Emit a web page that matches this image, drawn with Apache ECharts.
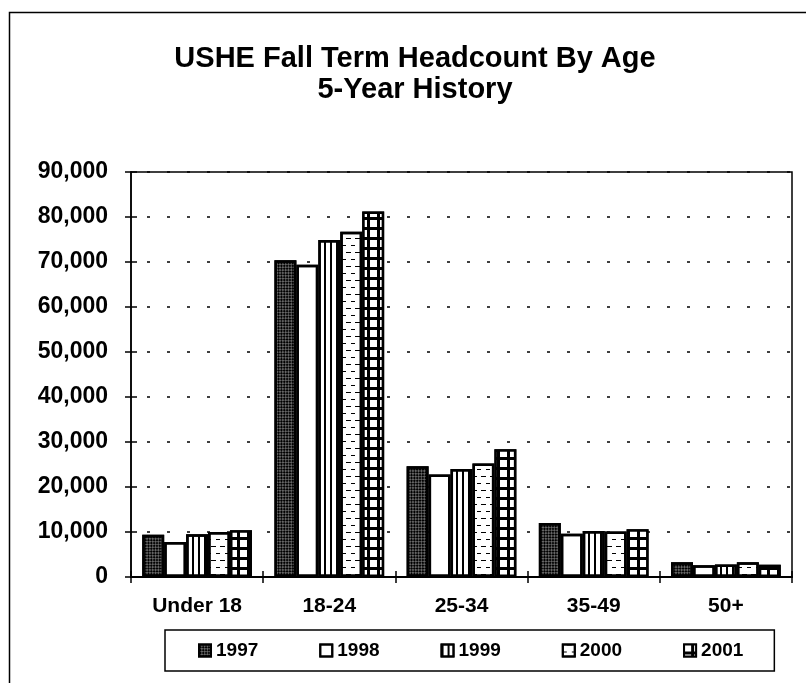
<!DOCTYPE html>
<html>
<head>
<meta charset="utf-8">
<title>USHE Fall Term Headcount By Age</title>
<script src="https://cdn.jsdelivr.net/npm/echarts@6/dist/echarts.min.js"></script>
<style>
    html, body { margin: 0; padding: 0; background: #fff; }
    #chart { width: 806px; height: 683px; }
</style>
</head>
<body>
<div id="chart"></div>
<script>
// 数据
var categories = ['Under 18', '18-24', '25-34', '35-49', '50+'];
var years = ['1997', '1998', '1999', '2000', '2001'];
var v1997 = [9400, 70400, 24600, 12000, 3300];
var v1998 = [7800, 69400, 22800, 9600, 2600];
var v1999 = [9500, 74900, 24000, 10200, 2800];
var v2000 = [10000, 76700, 25200, 10100, 3300];
var v2001 = [10400, 81200, 28400, 10600, 2700];
var yTickLabels = ['0', '10,000', '20,000', '30,000', '40,000', '50,000', '60,000', '70,000', '80,000', '90,000'];

(function () {
    var font = "'Liberation Sans', Arial, sans-serif";
    var myChart = echarts.init(document.getElementById('chart'));

    // 各年份的填充图案 (rotation 要写明, 否则会用默认值)
    var decals = [
        { symbol: 'rect', symbolSize: 1, color: '#000', dashArrayX: [[2, 2], [0, 2, 2, 0]], dashArrayY: [2, 0], rotation: Math.PI / 4 },
        { symbol: 'rect', symbolSize: 1, color: 'rgba(0,0,0,0)', dashArrayX: [5, 0], dashArrayY: [5, 0], rotation: 0 },
        { symbol: 'rect', symbolSize: 1, color: '#000', dashArrayX: [1.5, 3.5], dashArrayY: [10, 0], rotation: 0 },
        { symbol: 'rect', symbolSize: 1, color: '#000', dashArrayX: [[4, 5], [0, 4, 5, 0]], dashArrayY: [1, 6], rotation: 0 },
        { symbol: 'rect', symbolSize: 1, color: '#fff', dashArrayX: [7, 3], dashArrayY: [7, 3], rotation: 0 }
    ];
    var fills = ['#666', '#fff', '#fff', '#fff', '#000'];
    var values = [v1997, v1998, v1999, v2000, v2001];

    var series = years.map(function (y, i) {
        return {
            name: y,
            type: 'bar',
            barGap: '0%',
            barCategoryGap: '17%',
            data: values[i],
            itemStyle: {
                color: fills[i],
                borderColor: '#000',
                borderWidth: 2.5,
                decal: decals[i]
            },
            emphasis: { disabled: true }
        };
    });

    var option = {
        animation: false,
        aria: { enabled: true, decal: { show: true } },
        title: {
            text: 'USHE Fall Term Headcount By Age\n5-Year History',
            left: 410,
            top: 38,
            textAlign: 'center',
            textStyle: {
                fontFamily: font,
                fontWeight: 'bold',
                fontSize: 29,
                lineHeight: 31,
                color: '#000'
            }
        },
        legend: {
            data: years,
            icon: 'rect',
            left: 165,
            top: 630,
            padding: [11, 31, 11, 33],
            itemWidth: 12,
            itemHeight: 12,
            itemGap: 61,
            borderColor: '#000',
            borderWidth: 1.5,
            textStyle: {
                fontFamily: font,
                fontWeight: 'bold',
                fontSize: 19,
                color: '#000'
            }
        },
        // 图表区域
        grid: {
            left: 131,
            right: 14,
            top: 172,
            bottom: 106,
            show: true,
            borderColor: '#000',
            borderWidth: 1.5
        },
        xAxis: [
            {
                type: 'category',
                data: categories,
                position: 'bottom',
                axisLine: { lineStyle: { color: '#000', width: 2 } },
                axisTick: { show: true, length: 6, lineStyle: { color: '#000', width: 1.5 } },
                axisLabel: {
                    margin: 19,
                    fontFamily: font,
                    fontWeight: 'bold',
                    fontSize: 21,
                    color: '#000'
                }
            },
            {
                type: 'category',
                data: categories,
                position: 'bottom',
                axisLine: { show: false },
                axisTick: { show: true, inside: true, length: 6, lineStyle: { color: '#000', width: 1.5 } },
                axisLabel: { show: false }
            }
        ],
        yAxis: [
            {
                type: 'value',
                min: 0,
                max: 90000,
                interval: 10000,
                axisLine: { show: true, lineStyle: { color: '#000', width: 1.5 } },
                axisTick: { show: true, length: 6, lineStyle: { color: '#000', width: 1.5 } },
                axisLabel: {
                    margin: 23,
                    fontFamily: font,
                    fontWeight: 'bold',
                    fontSize: 23,
                    color: '#000',
                    formatter: function (v) {
                        return yTickLabels[Math.round(v / 10000)];
                    }
                },
                // 虚线网格
                splitLine: {
                    show: true,
                    lineStyle: { color: '#000', width: 1.5, type: [3, 17], dashOffset: -16 }
                }
            },
            {
                type: 'value',
                min: 0,
                max: 90000,
                interval: 10000,
                position: 'left',
                axisLine: { show: false },
                axisTick: { show: true, inside: true, length: 6, lineStyle: { color: '#000', width: 1.5 } },
                axisLabel: { show: false },
                splitLine: { show: false }
            }
        ],
        // 外边框
        graphic: [
            {
                type: 'rect',
                left: 7,
                top: 10,
                shape: { width: 900, height: 800 },
                style: { fill: 'none', stroke: '#000', lineWidth: 1.5 },
                silent: true
            }
        ],
        series: series
    };

    myChart.setOption(option);

    window.addEventListener('resize', function () {
        myChart.resize();
    });
})();
</script>
</body>
</html>
